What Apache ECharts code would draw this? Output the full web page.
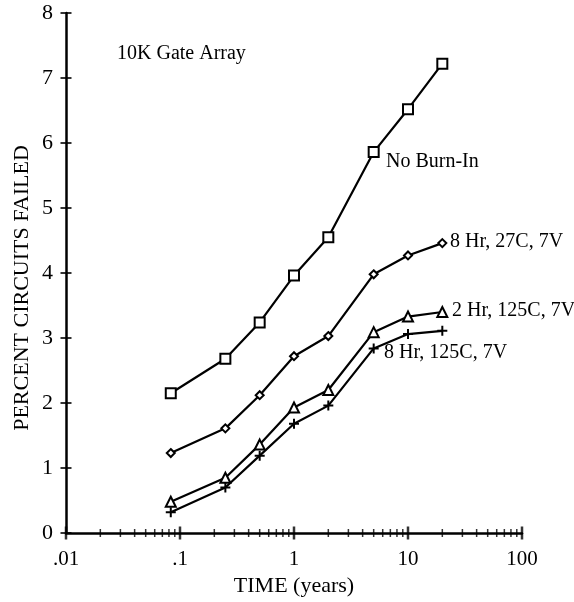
<!DOCTYPE html>
<html>
<head>
<meta charset="utf-8">
<script src="https://cdn.jsdelivr.net/npm/echarts@6/dist/echarts.min.js"></script>
<style>
  html, body { margin: 0; padding: 0; background: #fff; }
  #chart { width: 574px; height: 602px; }
</style>
</head>
<body>
<div id="chart"></div>
<script>
// time in years (log axis)
var times = [0.083, 0.25, 0.5, 1, 2, 5, 10, 20];

var noBurnIn = [2.15, 2.68, 3.24, 3.96, 4.55, 5.86, 6.52, 7.22];
var hr8c27 = [1.23, 1.61, 2.12, 2.72, 3.03, 3.98, 4.27, 4.46];
var hr2c125 = [0.48, 0.85, 1.36, 1.93, 2.2, 3.09, 3.33, 3.4];
var hr8c125 = [0.32, 0.7, 1.19, 1.68, 1.96, 2.84, 3.06, 3.11];

var xMajorTicks = [0.01, 0.1, 1, 10, 100];
var xMinorTicks = [
  0.02, 0.03, 0.04, 0.05, 0.06, 0.07, 0.08, 0.09,
  0.2, 0.3, 0.4, 0.5, 0.6, 0.7, 0.8, 0.9,
  2, 3, 4, 5, 6, 7, 8, 9,
  20, 30, 40, 50, 60, 70, 80, 90
];
var yTicks = [0, 1, 2, 3, 4, 5, 6, 7, 8];

var FONT = 'Liberation Serif';
var myChart = echarts.init(document.getElementById('chart'));

function pairs(vals) {
  return vals.map(function (v, i) { return [times[i], v]; });
}

function lineSeries(name, vals, symbol, size, fill) {
  return {
    name: name,
    type: 'line',
    data: pairs(vals),
    symbol: symbol,
    symbolSize: size,
    showAllSymbol: true,
    lineStyle: { color: '#000', width: 2.2 },
    itemStyle: { color: fill, borderColor: '#000', borderWidth: 2 },
    z: 3
  };
}

var plusPath = 'path://M4,0h2v4h4v2h-4v4h-2v-4h-4v-2h4z';

var option = {
  animation: false,
  backgroundColor: '#fff',
  grid: { left: 66, right: 52, top: 13, bottom: 69, outerBoundsMode: 'none', containLabel: false },
  xAxis: {
    type: 'log',
    logBase: 10,
    min: 0.01,
    max: 100,
    name: 'TIME (years)',
    nameLocation: 'middle',
    nameGap: 42,
    nameTextStyle: { fontFamily: FONT, fontSize: 22, color: '#000' },
    axisLine: { lineStyle: { color: '#000', width: 2.5 } },
    axisTick: { show: false },
    splitLine: { show: false },
    axisLabel: {
      fontFamily: FONT, fontSize: 21, color: '#000', margin: 16,
      formatter: function (v) {
        if (v < 1) return String(v).replace(/^0/, '');
        return String(Math.round(v));
      }
    }
  },
  yAxis: {
    type: 'value',
    min: 0,
    max: 8,
    interval: 1,
    axisLine: { show: true, lineStyle: { color: '#000', width: 2.5 } },
    axisTick: { show: false },
    splitLine: { show: false },
    axisLabel: { fontFamily: FONT, fontSize: 22, color: '#000', margin: 13 }
  },
  series: [
    lineSeries('No Burn-In', noBurnIn, 'rect', 10, '#fff'),
    lineSeries('8 Hr, 27C, 7V', hr8c27, 'diamond', 8, '#fff'),
    lineSeries('2 Hr, 125C, 7V', hr2c125, 'triangle', 10, '#fff'),
    {
      name: '8 Hr, 125C, 7V',
      type: 'line',
      data: pairs(hr8c125),
      symbol: plusPath,
      symbolSize: 10,
      showAllSymbol: true,
      lineStyle: { color: '#000', width: 2.2 },
      itemStyle: { color: '#000', borderWidth: 0 },
      z: 3
    },
    {
      type: 'scatter',
      data: xMinorTicks.map(function (v) { return [v, 0]; }),
      symbol: 'rect',
      symbolSize: [1.5, 8],
      itemStyle: { color: '#000' },
      clip: false,
      silent: true,
      z: 4
    },
    {
      type: 'scatter',
      data: xMajorTicks.map(function (v) { return [v, 0]; }),
      symbol: 'rect',
      symbolSize: [2.5, 13],
      itemStyle: { color: '#000' },
      clip: false,
      silent: true,
      z: 4
    },
    {
      type: 'scatter',
      data: yTicks.map(function (v) { return [0.01, v]; }),
      symbol: 'rect',
      symbolSize: [11, 2],
      itemStyle: { color: '#000' },
      clip: false,
      silent: true,
      z: 4
    }
  ],
  graphic: [
    {
      type: 'text', x: 22, y: 288, rotation: Math.PI / 2,
      style: { text: 'PERCENT CIRCUITS FAILED', font: '22px "Liberation Serif"', fill: '#000', align: 'center', verticalAlign: 'middle' }
    },
    { type: 'text', left: 117, top: 44, style: { text: '10K Gate Array', font: '20px "Liberation Serif"', fill: '#000' } },
    { type: 'text', left: 386, top: 152, style: { text: 'No Burn-In', font: '20px "Liberation Serif"', fill: '#000' } },
    { type: 'text', left: 450, top: 232, style: { text: '8 Hr, 27C, 7V', font: '20px "Liberation Serif"', fill: '#000' } },
    { type: 'text', left: 452, top: 301, style: { text: '2 Hr, 125C, 7V', font: '20px "Liberation Serif"', fill: '#000' } },
    { type: 'text', left: 384, top: 343, style: { text: '8 Hr, 125C, 7V', font: '20px "Liberation Serif"', fill: '#000' } }
  ]
};

myChart.setOption(option);
</script>
</body>
</html>
